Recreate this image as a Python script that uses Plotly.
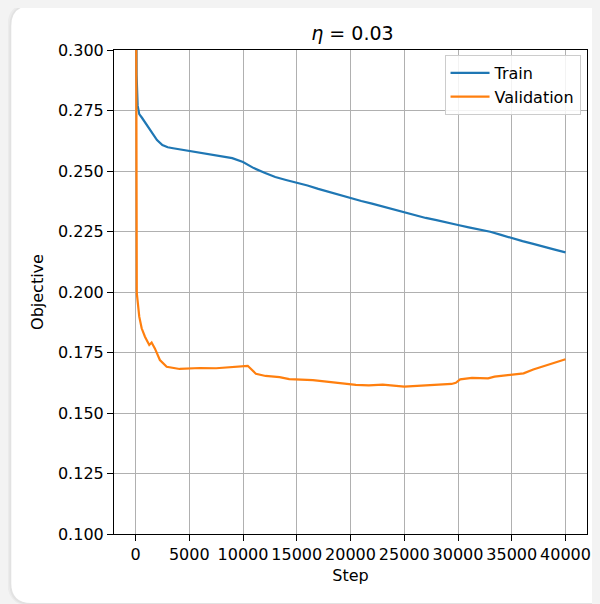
import plotly.graph_objects as go

# ---------------- data ----------------
train_steps = [0, 100, 200, 350, 600, 1000, 1400, 1700, 2000, 2500, 3000, 3500, 4000,
               5000, 6000, 7000, 8000, 9000, 10000, 11000, 12000, 13000, 14000, 15000,
               16000, 17000, 18000, 19000, 20000, 21000, 22000, 23000, 24000, 25000,
               26000, 27000, 28000, 29000, 29500, 30000, 31000, 32000, 33000, 34000,
               35000, 36000, 37000, 38000, 39000, 40000]
train_loss = [0.42, 0.29, 0.277, 0.2735, 0.272, 0.2695, 0.2668, 0.2648, 0.2628, 0.2607,
              0.2598, 0.2594, 0.2590, 0.2582, 0.2575, 0.2568, 0.2561, 0.2553, 0.2537,
              0.2512, 0.2493, 0.2475, 0.2463, 0.2452, 0.2440, 0.2426, 0.2413, 0.2400,
              0.2388, 0.2376, 0.2365, 0.2353, 0.2341, 0.2330, 0.2318, 0.2306, 0.2297,
              0.2288, 0.2284, 0.2277, 0.2267, 0.2258, 0.2249, 0.2236, 0.2222, 0.2210,
              0.2199, 0.2186, 0.2175, 0.2164]

val_steps = [0, 60, 120, 350, 574, 880, 1280, 1500, 1800, 2270, 2900, 4100, 6000, 7500,
             10000, 10440, 11200, 12100, 13400, 14300, 16500, 18000, 20500, 21700, 23000,
             25000, 27000, 29400, 29800, 30200, 31300, 32800, 33400, 36100, 37000, 40000]
val_loss = [0.45, 0.26, 0.1995, 0.1898, 0.185, 0.1815, 0.1781, 0.1791, 0.1767, 0.1719,
            0.1691, 0.1682, 0.1686, 0.1685, 0.1694, 0.1695, 0.1662, 0.1653, 0.1648,
            0.1640, 0.1636, 0.1628, 0.1616, 0.1614, 0.1617, 0.1609, 0.1614, 0.1620,
            0.1625, 0.1639, 0.1645, 0.1643, 0.1650, 0.1664, 0.1680, 0.1722]

x_ticks = [0, 5000, 10000, 15000, 20000, 25000, 30000, 35000, 40000]
y_ticks = [0.100, 0.125, 0.150, 0.175, 0.200, 0.225, 0.250, 0.275, 0.300]

# ---------------- layout geometry (page keeps its default 8px body margin) ----------------
OFF = 8
W, H = 600 - OFF, 604 - OFF
LEFT, RIGHT, TOP, BOTTOM = 114.4, 590.5, 50, 534   # plot area in window pixels
ML, MR, MT, MB = LEFT - OFF, 600 - RIGHT, TOP - OFF, 604 - BOTTOM
PW, PH = W - ML - MR, H - MT - MB
BG = "#f3f3f3"


def to_paper(px, py):
    """window pixel -> paper coords"""
    return (px - LEFT) / PW, (BOTTOM - py) / PH


def rounded_rect(x0, y0, x1, y1, r):
    def P(px, py):
        a, b = to_paper(px, py)
        return f"{a:.5f},{b:.5f}"
    return (f"M {P(x0 + r, y0)} L {P(x1 - r, y0)} Q {P(x1, y0)} {P(x1, y0 + r)} "
            f"L {P(x1, y1 - r)} Q {P(x1, y1)} {P(x1 - r, y1)} "
            f"L {P(x0 + r, y1)} Q {P(x0, y1)} {P(x0, y1 - r)} "
            f"L {P(x0, y0 + r)} Q {P(x0, y0)} {P(x0 + r, y0)} Z")


FONT = "DejaVu Sans"

fig = go.Figure()
fig.add_trace(go.Scatter(x=train_steps, y=train_loss, mode="lines", name="Train",
                         line=dict(color="#1f77b4", width=2.2)))
fig.add_trace(go.Scatter(x=val_steps, y=val_loss, mode="lines", name="Validation",
                         line=dict(color="#ff7f0e", width=2.2)))

shapes = [
    dict(type="path", xref="paper", yref="paper", layer="below",
         path=rounded_rect(7, 3, 680, 606, 24), fillcolor="rgba(0,0,0,0.03)", line_width=0),
    dict(type="path", xref="paper", yref="paper", layer="below",
         path=rounded_rect(9, 4.5, 670, 605, 22), fillcolor="rgba(0,0,0,0.035)", line_width=0),
    dict(type="path", xref="paper", yref="paper", layer="below",
         path=rounded_rect(11, 6, 660, 603, 20), fillcolor="white", line_width=0),
]

axis_common = dict(
    showline=True, linecolor="black", linewidth=1.1, mirror=True,
    showgrid=True, gridcolor="#b0b0b0", gridwidth=1,
    ticks="outside", ticklen=6, tickwidth=1.1, tickcolor="black",
    tickfont=dict(family=FONT, size=16, color="black"),
    zeroline=False,
)

fig.update_layout(
    width=W, height=H, autosize=False,
    margin=dict(l=ML, r=MR, t=MT, b=MB, pad=0),
    paper_bgcolor=BG,
    plot_bgcolor="white",
    shapes=shapes,
    title=dict(text="<i>η</i> = 0.03", x=(ML + PW / 2) / W, xanchor="center",
               y=1 - (33 - OFF) / H, yanchor="middle",
               font=dict(family=FONT, size=19, color="black")),
    xaxis=dict(axis_common, range=[-2000, 42000], tickvals=x_ticks,
               ticktext=[str(v) for v in x_ticks],
               title=dict(text="Step", font=dict(family=FONT, size=16, color="black"),
                          standoff=6)),
    yaxis=dict(axis_common, range=[0.1, 0.3], tickvals=y_ticks,
               ticktext=[f"{v:.3f}" for v in y_ticks],
               title=dict(text="Objective", font=dict(family=FONT, size=16, color="black"),
                          standoff=10)),
    legend=dict(x=to_paper(584, 0)[0], y=to_paper(0, 55)[1], xanchor="right", yanchor="top",
                itemwidth=39,
                bgcolor="rgba(255,255,255,0.85)", bordercolor="#cccccc", borderwidth=1,
                font=dict(family=FONT, size=16, color="black")),
    showlegend=True,
)

fig.write_html(
    "out.html",
    config={"responsive": False, "displayModeBar": False},
    post_script=f"document.body.style.background='{BG}';",
)
